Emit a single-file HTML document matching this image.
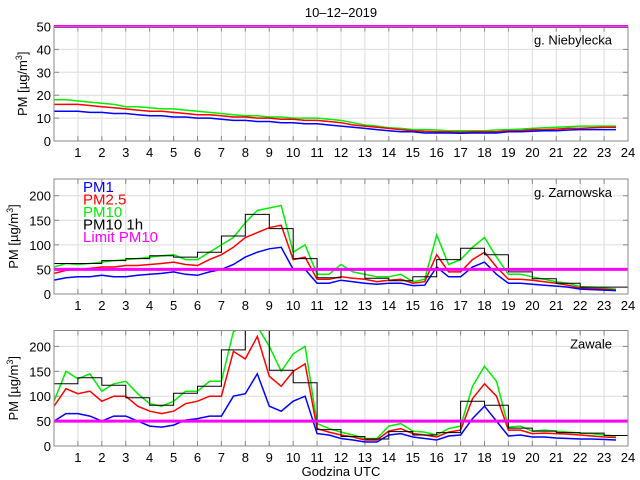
<!DOCTYPE html>
<html><head><meta charset="utf-8">
<style>
html,body{margin:0;padding:0;background:#fff;}
svg{display:block;font-family:"Liberation Sans",sans-serif;}
</style></head>
<body>
<svg id="chart" width="640" height="480" viewBox="0 0 640 480" xmlns="http://www.w3.org/2000/svg">
<rect x="0" y="0" width="640" height="480" fill="#fff"/>
<text x="341" y="17" font-size="13" text-anchor="middle">10–12–2019</text>
<text x="341" y="476" font-size="13" text-anchor="middle">Godzina UTC</text>
</svg>
<script>
// shared half-hour times
const times = [0,0.5,1,1.5,2,2.5,3,3.5,4,4.5,5,5.5,6,6.5,7,7.5,8,8.5,9,9.5,10,10.5,11,11.5,12,12.5,13,13.5,14,14.5,15,15.5,16,16.5,17,17.5,18,18.5,19,19.5,20,20.5,21,21.5,22,22.5,23,23.5];
const hourStarts = [0,1,2,3,4,5,6,7,8,9,10,11,12,13,14,15,16,17,18,19,20,21,22,23];
const xTicks = [1,2,3,4,5,6,7,8,9,10,11,12,13,14,15,16,17,18,19,20,21,22,23,24];
const limitPM10 = 50;

// Panel 1: g. Niebylecka
const p1PM1 = [13,13,13,12.5,12.5,12,12,11.5,11,11,10.5,10.5,10,10,9.5,9,9,8.5,8.5,8,8,7.5,7.5,7,6.5,6,5.5,5,4.5,4,4,3.5,3.5,3.5,3.4,3.5,3.5,3.5,4,4,4.3,4.5,4.5,4.8,5,5,5,5];
const p1PM25 = [16,16,16,15.5,15,14.5,14,13.5,13,13,12.5,12,11.5,11.5,11,10.5,10.5,10,10,9.5,9.5,9,9,8.5,8,7,6.5,6,5.5,5,4.5,4.2,4,4,3.8,4,4,4,4.5,4.5,5,5,5.2,5.5,5.5,5.8,6,6];
const p1PM10 = [18,18,17.5,17,16.5,16,15,15,14.5,14,14,13.5,13,12.5,12,11.5,11,11,10.5,10.5,10,10,10,9.5,9,8,7,6.5,5.8,5.5,5,5,4.8,4.5,4.5,4.5,4.5,4.8,5,5.2,5.5,5.8,6,6.2,6.5,6.5,6.5,6.5];
const p1Hourly = [];

// Panel 2: g. Zarnowska
const p2PM1 = [28,33,35,35,38,35,35,38,40,42,45,40,38,45,50,60,75,85,92,95,50,50,22,22,28,25,22,20,22,22,17,18,55,35,35,55,65,40,22,22,20,18,16,14,10,9,8,7];
const p2PM25 = [42,48,50,52,55,55,58,58,60,62,65,60,58,70,80,95,115,125,135,140,70,75,30,30,35,32,30,25,28,30,22,25,80,45,45,70,85,55,30,30,28,25,22,18,12,11,10,8];
const p2PM10 = [55,62,60,62,65,68,70,72,75,78,80,70,70,85,100,115,145,170,175,180,85,100,40,40,60,45,40,35,35,40,25,30,120,60,70,95,115,75,40,40,35,30,25,22,15,14,12,10];
const p2Hourly = [62,62,68,72,78,75,85,118,162,133,72,33,51,32,27,35,70,93,80,45,31,22,14,14];

// Panel 3: Zawale
const p3PM1 = [50,65,65,60,50,60,60,50,40,38,42,52,55,60,60,100,105,145,80,70,90,100,25,22,15,12,8,8,22,25,18,15,12,20,22,55,80,50,20,22,18,18,16,15,14,14,13,12];
const p3PM25 = [80,115,105,110,90,100,100,80,70,65,70,85,90,100,100,190,175,220,140,120,150,165,35,28,22,18,12,12,30,35,25,22,18,28,32,95,125,100,32,32,25,26,25,24,22,20,18,17];
const p3PM10 = [90,150,135,145,110,125,130,105,85,80,90,110,110,130,130,230,240,240,200,150,185,200,45,35,28,22,15,15,40,45,30,28,22,35,40,120,160,130,38,40,30,32,30,28,26,25,22,20];
const p3Hourly = [125,137,122,97,82,106,120,193,260,152,127,33,19,14,29,22,27,90,82,36,30,27,26,21];

const p1YTicks = [0,10,20,30,40,50];
const p23YTicks = [0,50,100,150,200];

const NS = 'http://www.w3.org/2000/svg';
const svg = document.getElementById('chart');
const X0 = 54, X1 = 628;
function xs(h){ return X0 + (X1 - X0) * h / 24; }

function mk(tag, attrs, parent){
  const e = document.createElementNS(NS, tag);
  for (const k in attrs) e.setAttribute(k, attrs[k]);
  (parent || svg).appendChild(e);
  return e;
}

function panel(cfg){
  const g = mk('g', {});
  
  
  const ys = v => cfg.bottom - (cfg.bottom - cfg.top) * v / cfg.ymax;
  const clipId = cfg.name + '-clip';
  const cp = mk('clipPath', {id: clipId}, g);
  mk('rect', {x: X0, y: cfg.top, width: X1 - X0, height: cfg.bottom - cfg.top}, cp);
  const grid = mk('g', {stroke: '#dcdcdc', 'stroke-width': 1}, g);
  
  
  xTicks.forEach(t => { mk('line', {x1: xs(t), x2: xs(t), y1: cfg.top, y2: cfg.bottom}, grid); });
  cfg.yTicks.forEach(t => { mk('line', {x1: X0, x2: X1, y1: ys(t), y2: ys(t)}, grid); });
  const tk = mk('g', {stroke: '#888', 'stroke-width': 1}, g);
  xTicks.forEach(t => {
    mk('line', {x1: xs(t), x2: xs(t), y1: cfg.bottom, y2: cfg.bottom - 5}, tk);
    mk('line', {x1: xs(t), x2: xs(t), y1: cfg.top, y2: cfg.top + 5}, tk);
    const lb = mk('text', {x: xs(t), y: cfg.bottom + 16, 'font-size': 13, 'text-anchor': 'middle', fill: '#000', stroke: 'none'}, g);
    
    
    lb.textContent = t;
  });
  cfg.yTicks.forEach(t => {
    mk('line', {x1: X0, x2: X0 + 5, y1: ys(t), y2: ys(t)}, tk);
    mk('line', {x1: X1, x2: X1 - 5, y1: ys(t), y2: ys(t)}, tk);
    const lb = mk('text', {x: X0 - 3, y: ys(t) + 5, 'font-size': 13, 'text-anchor': 'end', fill: '#000'}, g);
    
    
    lb.textContent = t;
  });
  const sg = mk('g', {'clip-path': 'url(#' + clipId + ')', fill: 'none'}, g);
  function series(vals, color, nm){
    const d = vals.map((v, i) => (i ? 'L' : 'M') + xs(times[i]).toFixed(1) + ' ' + ys(v).toFixed(1)).join(' ');
    const p = mk('path', {d: d, stroke: color, 'stroke-width': 1.5}, sg);
    
    
  }
  series(cfg.pm10, '#00ee00', cfg.name + '-pm10-line');
  series(cfg.pm25, '#ff0000', cfg.name + '-pm25-line');
  series(cfg.pm1, '#0000ff', cfg.name + '-pm1-line');
  if (cfg.hourly.length){
    let d = '';
    cfg.hourly.forEach((v, i) => {
      const h = hourStarts[i];
      d += (i ? 'L' : 'M') + xs(h).toFixed(1) + ' ' + ys(v).toFixed(1) + ' L' + xs(h + 1).toFixed(1) + ' ' + ys(v).toFixed(1) + ' ';
    });
    const p = mk('path', {d: d, stroke: '#000', 'stroke-width': 1}, sg);
    
    
  }
  const lim = mk('line', {x1: X0, x2: X1, y1: ys(limitPM10), y2: ys(limitPM10), stroke: '#ff00ff', 'stroke-width': 3}, g);
  
  
  const fr = mk('rect', {x: X0, y: cfg.top, width: X1 - X0, height: cfg.bottom - cfg.top, fill: 'none', stroke: '#888', 'stroke-width': 1}, g);
  
  
  const st = mk('text', {x: 612, y: cfg.top + 18, 'font-size': 13, 'text-anchor': 'end'}, g);
  
  
  st.textContent = cfg.station;
  const cy = (cfg.top + cfg.bottom) / 2;
  const yt = mk('text', {x: 0, y: 0, 'font-size': 13, 'text-anchor': 'middle', transform: 'translate(' + cfg.ytx + ',' + cy + ') rotate(-90)'}, g);
  
  
  yt.innerHTML = 'PM [µg/m<tspan dy="-5" font-size="9">3</tspan><tspan dy="5">]</tspan>';
}

panel({name: 'niebylecka-panel', station: 'g. Niebylecka', top: 26.5, bottom: 141, ymax: 50, yTicks: p1YTicks, pm1: p1PM1, pm25: p1PM25, pm10: p1PM10, hourly: p1Hourly, ytx: 27});
panel({name: 'zarnowska-panel', station: 'g. Zarnowska', top: 179, bottom: 294, ymax: 234, yTicks: p23YTicks, pm1: p2PM1, pm25: p2PM25, pm10: p2PM10, hourly: p2Hourly, ytx: 18});
panel({name: 'zawale-panel', station: 'Zawale', top: 330.5, bottom: 446, ymax: 232, yTicks: p23YTicks, pm1: p3PM1, pm25: p3PM25, pm10: p3PM10, hourly: p3Hourly, ytx: 18});

const legendLabels = ['PM1', 'PM2.5', 'PM10', 'PM10 1h', 'Limit PM10'];
const legendColors = ['#0000ff', '#ff0000', '#00ee00', '#000000', '#ff00ff'];
const lg = mk('g', {});


legendLabels.forEach((l, i) => {
  const t = mk('text', {x: 83, y: 192 + i * 12.5, 'font-size': 15, fill: legendColors[i]}, lg);
  
  
  t.textContent = l;
});
</script>
</body></html>
